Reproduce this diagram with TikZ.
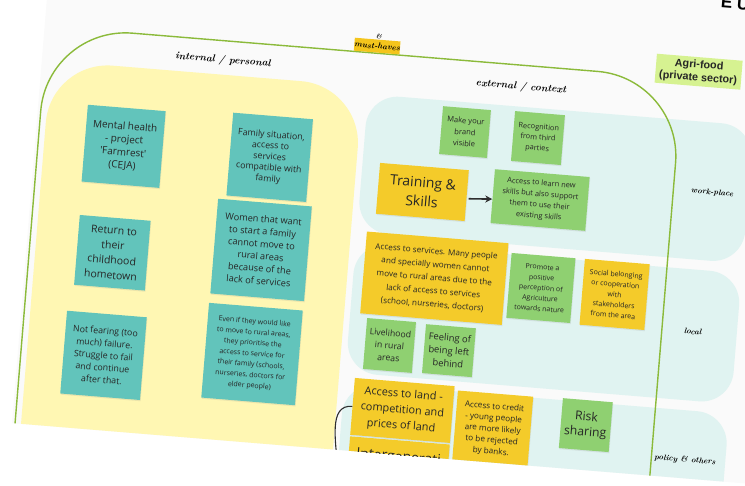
\documentclass[tikz,border=0pt]{standalone}
\usepackage{fontspec}
\newfontfamily\notefont{Open Sans}
\newfontfamily\labelfont{Liberation Sans}
\usetikzlibrary{arrows.meta}
\usetikzlibrary{shadows}
\definecolor{boardgray}{HTML}{FAFAFA}
\definecolor{innerarea}{HTML}{FFF7B3}
\definecolor{bandcyan}{HTML}{E0F3F1}
\definecolor{outergreen}{HTML}{8BBA3A}
\definecolor{notecyan}{HTML}{62C4BB}
\definecolor{notegreen}{HTML}{8FD071}
\definecolor{noteyellow}{HTML}{F4CB2A}
\definecolor{agrigreen}{HTML}{D6F291}
\definecolor{haveyellow}{HTML}{F4C51C}
\definecolor{inktext}{HTML}{262626}
\definecolor{arrowgray}{HTML}{2E2E2E}
\newcommand\notesize[2]{\notefont\fontsize{#1}{#2}\selectfont}
\newcommand\handsize[1]{\bfseries\itshape\fontsize{#1}{#1}\selectfont}

\begin{document}
\begin{tikzpicture}[x=1pt,y=-1pt]
				    \tikzstyle{note}=[inner sep=0pt,align=center,text=inktext,drop shadow={shadow xshift=0.6pt,shadow yshift=-1.2pt,opacity=.15}]
				    \tikzstyle{tealnote}=[note,fill=notecyan]
				    \tikzstyle{greennote}=[note,fill=notegreen]
				    \tikzstyle{yellownote}=[note,fill=noteyellow]
				    \tikzstyle{hand}=[inner sep=1pt,text=black]
				    \tikzstyle{band}=[fill=bandcyan,rounded corners=32pt]
				    \tikzstyle{link}=[draw,line width=1.6pt,-{Stealth[length=7pt,width=7pt]},arrowgray]
				    \useasboundingbox (0,0) rectangle (745,486);
				    \fill[white] (0,0) rectangle (745,486);
				    \begin{scope}[rotate around={-4.7:(372,243)},transform shape]
				    \clip (28,-60) rectangle (800,452);
				    \fill[boardgray] (28,-60) rectangle (800,452);
				    \fill[innerarea,rounded corners=62pt] (37,87.5) rectangle (350,540);
				    \fill[band] (356,95) rectangle (743,233);
				    \fill[band] (356,243) rectangle (743,374);
				    \fill[band] (356,384) rectangle (742,540);
				    \draw[outergreen,line width=1.4pt,rounded corners=85pt] (31,540) -- (31,53.5) -- (668,53.5) -- (668,540);
				    \node[anchor=base west,inner sep=0pt,font=\labelfont\bfseries\fontsize{17}{17}\selectfont] (eu) at (700,-20) {E U};
				    \node[hand,font=\handsize{6.5}] (amp) at (362,37) {\&};
				    \node[hand,fill=haveyellow,minimum width=44pt,minimum height=13pt,inner sep=0pt,font=\handsize{8.2}] (musthaves) at (361,46.3) {must-haves};
				    \node[fill=agrigreen,minimum width=86pt,minimum height=29pt,inner sep=0pt,align=center,text=inktext,font=\labelfont\bfseries\fontsize{10.8}{13}\selectfont] (agrifood) at (683.5,45.5) {Agri-food\\(private sector)};
				    \node[hand,font=\handsize{10}] (internal) at (208.5,73) {internal / personal};
				    \node[hand,font=\handsize{10}] (external) at (507.7,75.3) {external / context};
				    \node[hand,font=\handsize{8}] (workplace) at (707,165) {work-place};
				    \node[hand,font=\handsize{8}] (local) at (699,305) {local};
				    \node[hand,font=\handsize{8}] (policy) at (701.7,433.7) {policy \& others};
				    \node[tealnote,minimum width=78pt,minimum height=77pt,font=\notesize{10}{13}] (mental) at (116.5,167) {Mental health\\- project\\\textquotesingle Farmrest\textquotesingle\\(CEJA)};
				    \node[tealnote,minimum width=80pt,minimum height=83pt,font=\notesize{8.8}{11}] (family) at (263,166) {Family situation,\\access to\\services\\compatible with\\family};
				    \node[tealnote,minimum width=71pt,minimum height=70pt,font=\notesize{10.5}{15}] (hometown) at (114,274) {Return to\\their\\childhood\\hometown};
				    \node[tealnote,minimum width=94pt,minimum height=95pt,font=\notesize{9.2}{12.4}] (women) at (262,259) {Women that want\\to start a family\\cannot move to\\rural areas\\because of the\\lack of services};
				    \node[tealnote,minimum width=80pt,minimum height=83pt,font=\notesize{8.8}{12.3}] (failure) at (113.6,377) {Not fearing (too\\much) failure.\\Struggle to fail\\and continue\\after that.};
				    \node[tealnote,minimum width=94pt,minimum height=95pt,font=\notesize{7}{10.7}] (priority) at (261.5,363.5) {Even if they would like\\to move to rural areas,\\they prioritise the\\access to service for\\their family (schools,\\nurseries, doctors for\\elder people)};
				    \node[greennote,minimum width=48pt,minimum height=48pt,font=\notesize{7.6}{11.5}] (brand) at (455.6,124.8) {Make your\\brand\\visible};
				    \node[greennote,minimum width=50pt,minimum height=50pt,font=\notesize{7.4}{10.5}] (recognition) at (528.8,124.8) {Recognition\\from third\\parties};
				    \node[yellownote,minimum width=89pt,minimum height=51pt,font=\notesize{14}{19}] (training) at (418,188) {Training \&\\Skills};
				    \node[greennote,minimum width=95pt,minimum height=54pt,font=\notesize{7.5}{11}] (learn) at (536,186.4) {Access to learn new\\skills but also support\\them to use their\\existing skills};
				    \node[yellownote,minimum width=142pt,minimum height=82pt,font=\notesize{8.2}{13.3}] (services) at (437,273) {Access to services. Many people\\and specially women cannot\\move to rural areas due to the\\lack of access to services\\(school, nurseries, doctors)};
				    \node[greennote,minimum width=64pt,minimum height=65pt,font=\notesize{7}{10.4}] (perception) at (544,274) {Promote a\\positive\\perception of\\Agriculture\\towards nature};
				    \node[yellownote,minimum width=65pt,minimum height=66pt,font=\notesize{7}{10.3}] (belonging) at (618,274.4) {Social belonging\\or cooperation\\with\\stakeholders\\from the area};
				    \node[greennote,minimum width=49pt,minimum height=51pt,font=\notesize{8.7}{12.5}] (livelihood) at (397.8,343.7) {Livelihood\\in rural\\areas};
				    \node[greennote,minimum width=50pt,minimum height=49pt,font=\notesize{9.4}{13}] (leftbehind) at (457.5,344) {Feeling of\\being left\\behind};
				    \node[yellownote,minimum width=100pt,minimum height=57pt,font=\notesize{10.9}{15.8}] (land) at (416,407.4) {Access to land -\\competition and\\prices of land};
				    \node[yellownote,minimum width=100pt,minimum height=57pt] (intergen) at (416,466) {};
				    \node[anchor=north,inner sep=0pt,text=inktext,font=\notesize{14}{18}] (intergentext) at (416,448) {Intergenerati};
				    \node[yellownote,minimum width=75.5pt,minimum height=72pt,font=\notesize{8.2}{11.25}] (credit) at (507.5,419) {Access to credit\\- young people\\are more likely\\to be rejected\\by banks.};
				    \node[greennote,minimum width=50pt,minimum height=50pt,font=\notesize{12.2}{15}] (risk) at (600,407) {Risk\\sharing};
				    \draw[link] ([xshift=2pt,yshift=-3pt]training.east) -- ([yshift=-3pt]learn.west);
				    \coordinate (landtail) at (356,470);
				    \draw[arrowgray,line width=1.1pt] (land.west) to[out=180,in=97] (landtail);
				    \end{scope}
				\end{tikzpicture}
\end{document}
